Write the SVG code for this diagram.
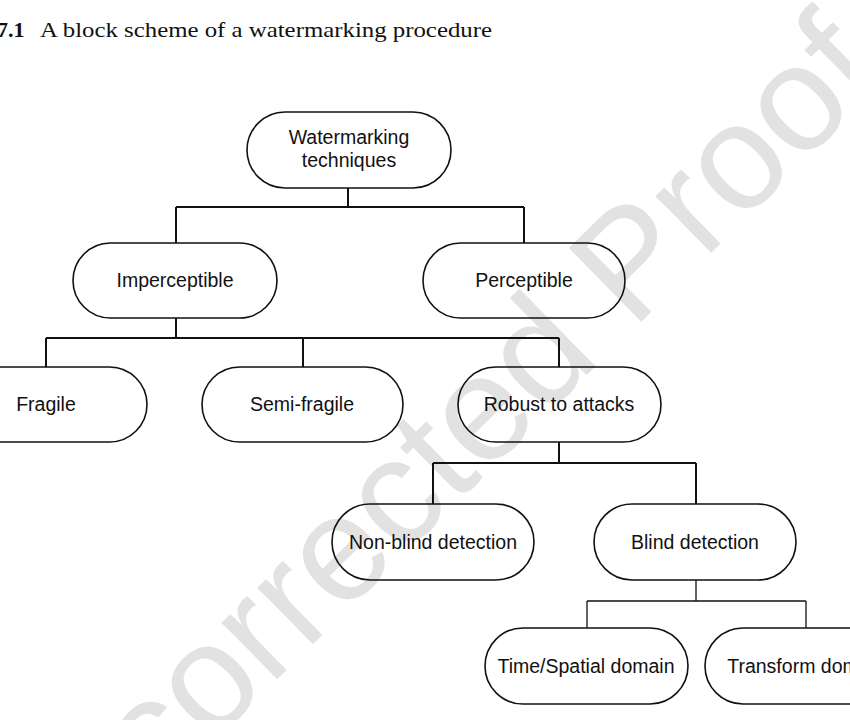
<svg xmlns="http://www.w3.org/2000/svg" width="850" height="720" viewBox="0 0 850 720">
<style>
.node rect{fill:none;stroke:#111;stroke-width:1.6}
.node text{font-family:"Liberation Sans",Arial,sans-serif;font-size:19.5px;fill:#111;text-anchor:middle}
.conn path{fill:none;stroke:#111;stroke-width:2}
.conn path.thin{stroke-width:1.3}
.cap{font-family:"Liberation Serif","Times New Roman",serif;font-size:22px;fill:#111}
.wm{font-family:"Liberation Sans",Arial,sans-serif;font-size:150px;fill:#e2e2e2}
</style>
<rect width="850" height="720" fill="#fff"/>
<text class="wm" transform="translate(20,932) rotate(-44.5)">Uncorrected Proof</text>
<text class="cap" x="-3" y="37"><tspan font-weight="bold">7.1</tspan></text>
<text class="cap" x="40" y="37" textLength="452" lengthAdjust="spacingAndGlyphs">A block scheme of a watermarking procedure</text>
<g id="connectors" class="conn">
<path d="M348,188V207M176,207H524M176,207V243M524,207V243"/>
<path d="M176,318V338M46,338H559M46,338V367M303,338V367M559,338V367"/>
<path d="M559,442V463M433,463H696M433,463V504M696,463V504"/>
<path class="thin" d="M696,580V601M587,601H806M587,601V628M806,601V628"/>
</g>
<g id="n-root" class="node"><rect x="247" y="112" width="204" height="76" rx="38"/><text x="349" y="144">Watermarking</text><text x="349" y="167">techniques</text></g>
<g id="n-imperceptible" class="node"><rect x="73" y="243" width="204" height="75" rx="37.5"/><text x="175" y="287">Imperceptible</text></g>
<g id="n-perceptible" class="node"><rect x="423" y="243" width="202" height="75" rx="37.5"/><text x="524" y="287">Perceptible</text></g>
<g id="n-fragile" class="node"><rect x="-55" y="367" width="202" height="75" rx="37.5"/><text x="46" y="411">Fragile</text></g>
<g id="n-semifragile" class="node"><rect x="202" y="367" width="201" height="75" rx="37.5"/><text x="302" y="411">Semi-fragile</text></g>
<g id="n-robust" class="node"><rect x="458" y="367" width="203" height="75" rx="37.5"/><text x="559" y="411">Robust to attacks</text></g>
<g id="n-nonblind" class="node"><rect x="332" y="504" width="202" height="76" rx="38"/><text x="433" y="549">Non-blind detection</text></g>
<g id="n-blind" class="node"><rect x="594" y="504" width="202" height="76" rx="38"/><text x="695" y="549">Blind detection</text></g>
<g id="n-timespatial" class="node"><rect x="485" y="628" width="203" height="76" rx="38"/><text x="586" y="673">Time/Spatial domain</text></g>
<g id="n-transform" class="node"><rect x="705" y="628" width="202" height="76" rx="38"/><text x="806" y="673">Transform domain</text></g>
</svg>
